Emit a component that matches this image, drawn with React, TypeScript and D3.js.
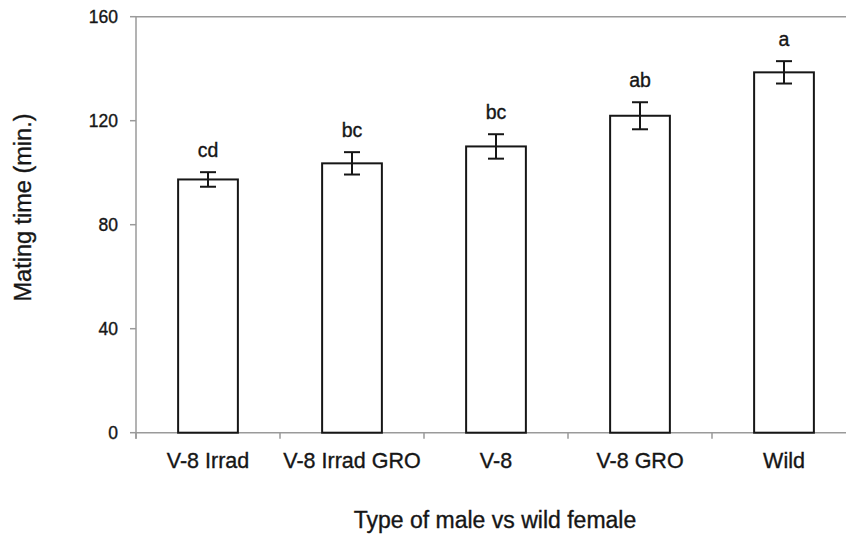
import React from "react";
import * as d3 from "d3";

const categories = ["V-8 Irrad", "V-8 Irrad GRO", "V-8", "V-8 GRO", "Wild"];
const means = [97.4, 103.6, 110.1, 121.9, 138.6];
const errors = [2.8, 4.3, 4.7, 5.2, 4.3];
const letters = ["cd", "bc", "bc", "ab", "a"];
const yTicks = [0, 40, 80, 120, 160];

const W = 846;
const H = 536;
const left = 136;
const right = 856;
const top = 16.7;
const bottom = 432.7;
const font = "'Liberation Sans', Arial, sans-serif";
const axisColor = "#9a9a9a";
const ink = "#161616";
const textStroke = { stroke: ink, strokeWidth: 0.35 };

export default function App() {
  const x = d3.scaleBand<string>().domain(categories).range([left, right]).padding(0);
  const y = d3.scaleLinear().domain([0, 160]).range([bottom, top]);
  const bw = x.bandwidth() * 0.415;
  const boundaries = categories.map((c) => x(c)!).concat([right]);

  return (
    <svg width={W} height={H} style={{ display: "block", position: "absolute", left: 0, top: 0, background: "#fff" }}>
      <rect x={0} y={0} width={W} height={H} fill="#fff" />
      {/* top frame line */}
      <line x1={left} x2={W} y1={y(160)} y2={y(160)} stroke={axisColor} strokeWidth={1.5} />
      {/* y axis */}
      <line x1={left} x2={left} y1={y(160)} y2={y(0) + 6} stroke={axisColor} strokeWidth={1.5} />
      {yTicks.map((t) => (
        <g key={t}>
          <line x1={left - 6} x2={left} y1={y(t)} y2={y(t)} stroke={axisColor} strokeWidth={1.5} />
          <text x={118} y={y(t)} dy="0.36em" textAnchor="end" fontFamily={font} fontSize={17.5} fill={ink} {...textStroke}>
            {t}
          </text>
        </g>
      ))}
      {/* x axis */}
      <line x1={left} x2={W} y1={y(0)} y2={y(0)} stroke={axisColor} strokeWidth={1.5} />
      {boundaries.map((b, i) => (
        <line key={i} x1={b} x2={b} y1={y(0)} y2={y(0) + 6} stroke={axisColor} strokeWidth={1.5} />
      ))}
      {/* bars */}
      {categories.map((c, i) => {
        const cx = x(c)! + x.bandwidth() / 2;
        return (
          <g key={c}>
            <rect x={cx - bw / 2} y={y(means[i])} width={bw} height={y(0) - y(means[i])} fill="#fff" stroke={ink} strokeWidth={2} />
            <line x1={cx} x2={cx} y1={y(means[i] + errors[i])} y2={y(means[i] - errors[i])} stroke={ink} strokeWidth={2} />
            <line x1={cx - 8} x2={cx + 8} y1={y(means[i] + errors[i])} y2={y(means[i] + errors[i])} stroke={ink} strokeWidth={2} />
            <line x1={cx - 8} x2={cx + 8} y1={y(means[i] - errors[i])} y2={y(means[i] - errors[i])} stroke={ink} strokeWidth={2} />
            <text x={cx} y={y(means[i] + errors[i]) - 15} textAnchor="middle" fontFamily={font} fontSize={19.5} fill={ink} {...textStroke}>
              {letters[i]}
            </text>
            <text x={cx} y={468} textAnchor="middle" fontFamily={font} fontSize={21.5} fill={ink} {...textStroke}>
              {c}
            </text>
          </g>
        );
      })}
      <text x={495} y={528} textAnchor="middle" fontFamily={font} fontSize={23} fill={ink} {...textStroke}>
        Type of male vs wild female
      </text>
      <text transform={`translate(31,207.5) rotate(-90)`} textAnchor="middle" fontFamily={font} fontSize={23.5} fill={ink} {...textStroke}>
        Mating time (min.)
      </text>
    </svg>
  );
}
